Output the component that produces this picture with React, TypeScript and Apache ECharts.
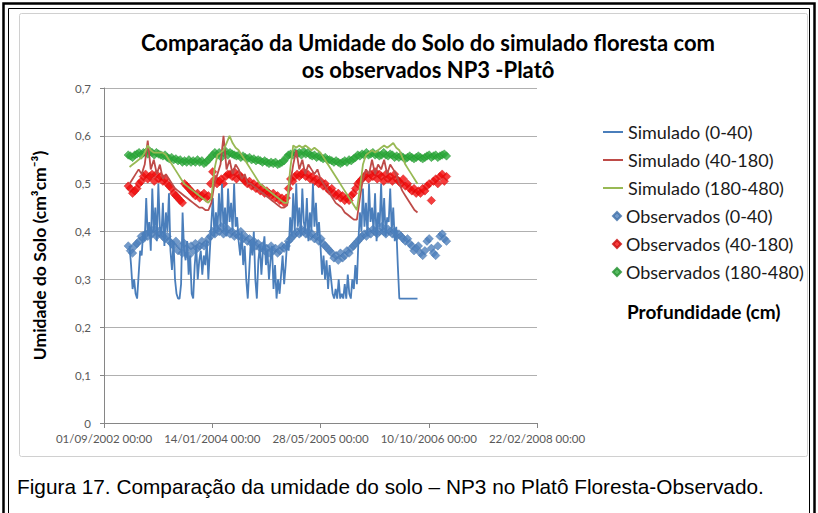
import React, { useEffect, useRef } from "react";
import * as echarts from "echarts";

// X axis: Excel date serials (days); 37500 = 01/09/2002
const X_MIN = 37500;
const X_MAX = 39500;
const X_INTERVAL = 500;
const Y_MIN = 0;
const Y_MAX = 0.7;
const Y_INTERVAL = 0.1;

const TITLE = "Comparação da Umidade do Solo do simulado floresta com\nos observados NP3 -Platô";
const Y_NAME = "Umidade do Solo (cm³cm⁻³)";
const LEGEND_TITLE = "Profundidade (cm)";
const CAPTION = "Figura 17. Comparação da umidade do solo – NP3 no Platô Floresta-Observado.";

const SERIES_NAMES = [
  "Simulado (0-40)",
  "Simulado (40-180)",
  "Simulado (180-480)",
  "Observados (0-40)",
  "Observados (40-180)",
  "Observados (180-480)",
];

// Simulated 0-40: sampled every 7 days from serial 37618
const simBlueStart = 37618;
const simBlueStep = 7;
const simBlue = [
  0.37, 0.33, 0.28, 0.30, 0.27, 0.26, 0.31, 0.36, 0.35,
  0.40, 0.38, 0.47, 0.39, 0.42, 0.36, 0.49, 0.40, 0.45, 0.38, 0.50, 0.41, 0.39, 0.46, 0.37, 0.44, 0.40, 0.48,
  0.36, 0.32, 0.38, 0.30, 0.27, 0.26, 0.26, 0.29,
  0.44,
  0.36, 0.34, 0.38, 0.31, 0.35, 0.27, 0.26, 0.33, 0.37, 0.30, 0.34, 0.36, 0.31, 0.35,
  0.33, 0.38, 0.30, 0.36,
  0.42, 0.47, 0.39, 0.44, 0.40, 0.48,
  0.41, 0.50, 0.40, 0.45, 0.39, 0.49, 0.42, 0.46, 0.40, 0.50, 0.41, 0.43,
  0.38, 0.35, 0.40, 0.33, 0.37, 0.30, 0.26,
  0.32, 0.38, 0.35, 0.40, 0.30, 0.26, 0.34, 0.37, 0.31, 0.36, 0.39, 0.33,
  0.36, 0.30, 0.34, 0.37, 0.28, 0.33, 0.26, 0.30, 0.27,
  0.31, 0.35, 0.29, 0.33, 0.38, 0.36,
  0.43, 0.39, 0.48, 0.40, 0.50, 0.41, 0.45, 0.39, 0.49, 0.42, 0.40, 0.47, 0.38, 0.44, 0.40, 0.50, 0.41, 0.46, 0.39, 0.42,
  0.37, 0.31, 0.35, 0.30, 0.34, 0.28, 0.33, 0.30, 0.27,
  0.26, 0.28, 0.26, 0.30, 0.26, 0.27, 0.26, 0.29, 0.26, 0.31, 0.27, 0.26, 0.30, 0.28, 0.33, 0.29,
  0.38, 0.44, 0.40, 0.49, 0.41, 0.46, 0.39, 0.50, 0.42, 0.45, 0.40, 0.48, 0.38, 0.44, 0.41, 0.50, 0.40, 0.47, 0.39, 0.43, 0.42, 0.49, 0.40, 0.45, 0.38, 0.41,
  0.33,
  0.26, 0.26, 0.26, 0.26, 0.26, 0.26, 0.26, 0.26, 0.26, 0.26, 0.26, 0.26, 0.26,
];

// Simulated 40-180 and 180-480: sampled every 14 days from serial 37618
const simStart = 37618;
const simStep = 14;
const simRed = [
  0.50, 0.51, 0.52, 0.53,
  0.52, 0.54, 0.59, 0.53,
  0.55, 0.52, 0.54, 0.51, 0.52,
  0.51, 0.50, 0.49, 0.485, 0.48, 0.475, 0.47, 0.465, 0.46, 0.455, 0.45, 0.45, 0.445,
  0.445, 0.46, 0.50, 0.52, 0.54, 0.60, 0.53, 0.55, 0.52, 0.54, 0.53, 0.51, 0.52, 0.50,
  0.50, 0.495, 0.49, 0.485, 0.48, 0.475, 0.47, 0.465, 0.46, 0.455, 0.45, 0.45, 0.455,
  0.50, 0.54, 0.57, 0.53, 0.55, 0.52, 0.54, 0.53, 0.52, 0.53, 0.51,
  0.50, 0.49, 0.48, 0.47, 0.46, 0.455, 0.45, 0.44, 0.435, 0.43, 0.425, 0.425,
  0.47, 0.51, 0.53, 0.52, 0.55, 0.52, 0.54, 0.53, 0.55, 0.52, 0.54, 0.53, 0.52,
  0.50, 0.485, 0.475, 0.465, 0.455, 0.445, 0.44,
];
const simGreen = [
  0.535, 0.54, 0.545, 0.55, 0.555, 0.565, 0.58, 0.57, 0.565, 0.565, 0.565, 0.565,
  0.56, 0.55, 0.54, 0.53, 0.52, 0.51, 0.50, 0.495, 0.49, 0.485, 0.48, 0.475, 0.47, 0.465, 0.46, 0.47,
  0.53, 0.56, 0.565, 0.57, 0.585, 0.60, 0.585, 0.575, 0.57,
  0.56, 0.55, 0.54, 0.53, 0.52, 0.51, 0.50, 0.495, 0.49, 0.485, 0.48, 0.475, 0.47, 0.465, 0.46, 0.46,
  0.53, 0.58, 0.575, 0.58, 0.575, 0.58, 0.575, 0.57, 0.575, 0.57, 0.565,
  0.555, 0.545, 0.535, 0.525, 0.515, 0.505, 0.495, 0.485, 0.475, 0.465, 0.455, 0.445,
  0.49, 0.54, 0.56, 0.565, 0.57, 0.565, 0.57, 0.575, 0.58, 0.575, 0.58, 0.585, 0.575,
  0.57, 0.555, 0.54, 0.53, 0.52, 0.51, 0.50,
];

// Observations: every 10 days from serial 37612
const obsStart = 37612;
const obsStep = 10;
const obsBlue = [
  0.37, 0.36, 0.355, 0.37, 0.375, 0.38, 0.39, 0.385,
  0.395, 0.39, 0.40, 0.395, 0.405, 0.39, 0.40, 0.395, 0.39, 0.385, 0.39, 0.38,
  0.375, 0.37, 0.38, 0.36, 0.37, 0.355, 0.375, 0.365, 0.35, 0.37, 0.36, 0.375, 0.365, 0.37, 0.38, 0.37, 0.375, 0.385,
  0.39, 0.40, 0.395, 0.405, 0.40, 0.41, 0.395, 0.40, 0.405, 0.395, 0.40, 0.39, 0.395, 0.39, 0.40, 0.385, 0.39,
  0.38, 0.385, 0.375, 0.38, 0.37, 0.375, 0.365, 0.37, 0.36, 0.365, 0.355, 0.37, 0.36, 0.365, 0.355, 0.36, 0.37, 0.365,
  0.37, 0.38, 0.385, 0.39, 0.395, 0.40, 0.395, 0.405, 0.40, 0.395, 0.40, 0.39, 0.395, 0.385, 0.39, 0.38, 0.385, 0.375, 0.37, 0.365,
  0.36, 0.355, 0.345, 0.35, 0.34, 0.355, 0.345, 0.35, 0.36, 0.355, 0.365, 0.37, 0.375,
  0.38, 0.385, 0.39, 0.395, 0.39, 0.40, 0.395, 0.405, 0.40, 0.395, 0.40, 0.41, 0.40, 0.395, 0.405, 0.40, 0.395, 0.40, 0.39,
  0.395, 0.39, 0.385, 0.38, 0.385, 0.375, 0.37, 0.36, 0.365, 0.37, 0.355, 0.35, 0.36, 0.38, 0.385, 0.365, 0.355, 0.35, 0.37, 0.39, 0.395, 0.385, 0.38,
];
const obsRed = [
  0.495, 0.49, 0.48, 0.485,
  0.49, 0.50, 0.505, 0.515,
  0.52, 0.51, 0.515, 0.52, 0.505, 0.52, 0.51, 0.515, 0.505, 0.51, 0.50, 0.495,
  0.49, 0.48, 0.475, 0.47, 0.465, 0.46,
  0.50, 0.495, 0.49, 0.485, 0.48, 0.475, 0.48, 0.47, 0.475, 0.48, 0.47, 0.475,
  0.50, 0.525, 0.51, 0.50, 0.505, 0.51, 0.50, 0.515, 0.52,
  0.52, 0.515, 0.525, 0.51, 0.52, 0.515, 0.51, 0.505,
  0.50, 0.505, 0.495, 0.50, 0.49, 0.495, 0.485, 0.49, 0.48, 0.485, 0.48, 0.475, 0.48, 0.47, 0.475, 0.465, 0.47, 0.46,
  0.47, 0.49, 0.51, 0.505, 0.515, 0.52, 0.515, 0.52,
  0.525, 0.515, 0.52, 0.51, 0.515, 0.505, 0.51, 0.50, 0.505, 0.495, 0.50, 0.49,
  0.485, 0.49, 0.48, 0.475, 0.48, 0.47, 0.475, 0.465, 0.47, 0.465, 0.475, 0.48, 0.49,
  0.50, 0.505, 0.51, 0.515, 0.52, 0.51, 0.52, 0.515, 0.525, 0.51, 0.52, 0.515, 0.505, 0.52, 0.51, 0.515, 0.505, 0.52, 0.51,
  0.505, 0.50, 0.51, 0.495, 0.50, 0.49, 0.485, 0.49, 0.48, 0.485, 0.48, 0.49, 0.485, 0.495, 0.50,
  0.465,
  0.505, 0.51, 0.50, 0.515, 0.52, 0.505, 0.515,
];
const obsGreen = [
  0.56, 0.558, 0.555, 0.56, 0.562, 0.565, 0.56, 0.565,
  0.565, 0.562, 0.568, 0.565, 0.56, 0.565, 0.562, 0.56, 0.558, 0.56, 0.555, 0.552,
  0.555, 0.55, 0.552, 0.548, 0.55, 0.545, 0.548, 0.545, 0.55, 0.545, 0.548, 0.545, 0.55, 0.545, 0.548, 0.542, 0.545, 0.55,
  0.555, 0.56, 0.565, 0.56, 0.565, 0.555, 0.565, 0.568, 0.56, 0.565, 0.562, 0.56, 0.558, 0.56, 0.555, 0.558, 0.555,
  0.552, 0.555, 0.55, 0.552, 0.548, 0.55, 0.548, 0.545, 0.548, 0.545, 0.542, 0.545, 0.542, 0.545, 0.54, 0.542, 0.545, 0.548,
  0.555, 0.56, 0.562, 0.56, 0.565, 0.562, 0.565, 0.56, 0.568, 0.562, 0.565, 0.56, 0.558, 0.56, 0.555, 0.558, 0.555, 0.552, 0.555, 0.55,
  0.55, 0.548, 0.545, 0.548, 0.545, 0.542, 0.545, 0.548, 0.545, 0.55, 0.548, 0.552, 0.555,
  0.56, 0.558, 0.562, 0.56, 0.565, 0.56, 0.562, 0.565, 0.56, 0.562, 0.558, 0.56, 0.565, 0.56, 0.558, 0.562, 0.56, 0.555, 0.558,
  0.555, 0.558, 0.555, 0.552, 0.555, 0.558, 0.555, 0.552, 0.555, 0.558, 0.555, 0.552, 0.555, 0.558, 0.56, 0.555, 0.558, 0.56, 0.555, 0.558, 0.56, 0.562, 0.558,
];

const COLORS = {
  simBlue: "#4A7EBB",
  simRed: "#BE4B48",
  simGreen: "#98B954",
  obsBlue: "#4F81BD",
  obsRed: "#F20D0D",
  obsGreen: "#2EAA3C",
};

const toPairs = (start: number, step: number, values: number[]) =>
  values.map((v, i) => [start + i * step, v]);

const pad = (n: number) => (n < 10 ? "0" + n : String(n));
const serialToLabel = (serial: number) => {
  const d = new Date(Date.UTC(1899, 11, 30) + Math.round(serial) * 86400000);
  return `${pad(d.getUTCDate())}/${pad(d.getUTCMonth() + 1)}/${d.getUTCFullYear()} 00:00`;
};

export default function App() {
  const ref = useRef<HTMLDivElement>(null);
  useEffect(() => {
    if (!ref.current) return;
    const chart = echarts.init(ref.current, null, { renderer: "svg" });
    const legendText = { fontFamily: "Lato", fontSize: 18, color: "#1a1a1a", lineHeight: 18 };
    chart.setOption({
      animation: false,
      backgroundColor: "#ffffff",
      title: {
        text: TITLE,
        left: 423,
        top: 24,
        textAlign: "center",
        textStyle: { fontFamily: "Lato", fontWeight: "bold", fontSize: 22, lineHeight: 27, color: "#000" },
      },
      grid: { left: 104, right: 281, top: 88, bottom: 90, containLabel: false },
      xAxis: {
        type: "value",
        min: X_MIN,
        max: X_MAX,
        interval: X_INTERVAL,
        axisLine: { show: true, lineStyle: { color: "#868686", width: 1 } },
        axisTick: { show: true, length: 5, lineStyle: { color: "#868686" } },
        splitLine: { show: false },
        axisLabel: {
          formatter: (v: number) => serialToLabel(v),
          fontFamily: "Lato",
          fontSize: 11.5,
          color: "#595959",
          margin: 9,
        },
      },
      yAxis: {
        type: "value",
        min: Y_MIN,
        max: Y_MAX,
        interval: Y_INTERVAL,
        name: Y_NAME,
        nameLocation: "middle",
        nameGap: 56,
        nameRotate: 90,
        nameTextStyle: { fontFamily: "Lato", fontWeight: "bold", fontSize: 17.5, color: "#000" },
        axisLine: { show: true, lineStyle: { color: "#868686", width: 1 } },
        axisTick: { show: true, length: 4, lineStyle: { color: "#868686" } },
        splitLine: { show: true, lineStyle: { color: "#B0B0B0", width: 1 } },
        axisLabel: {
          formatter: (v: number) => (v === 0 ? "0" : v.toFixed(1).replace(".", ",")),
          fontFamily: "Lato",
          fontSize: 11.5,
          color: "#595959",
          margin: 13,
        },
      },
      legend: [
        {
          data: SERIES_NAMES.slice(0, 3),
          orient: "vertical",
          left: 598,
          top: 118,
          icon: "rect",
          itemWidth: 20,
          itemHeight: 2,
          itemGap: 10,
          textStyle: legendText,
          selectedMode: false,
        },
        {
          data: SERIES_NAMES.slice(3),
          orient: "vertical",
          left: 607,
          top: 202,
          icon: "diamond",
          itemWidth: 8,
          itemHeight: 8,
          itemGap: 10,
          textStyle: legendText,
          selectedMode: false,
        },
      ],
      graphic: [
        {
          type: "rect",
          shape: { x: 3.5, y: 3.5, width: 811, height: 530 },
          style: { fill: "none", stroke: "#000", lineWidth: 2.5 },
          silent: true,
        },
        {
          type: "rect",
          shape: { x: 8.5, y: 8.5, width: 801, height: 530 },
          style: { fill: "none", stroke: "#000", lineWidth: 1 },
          silent: true,
        },
        {
          type: "rect",
          shape: { x: 19.5, y: 13.5, width: 788, height: 443, r: 2 },
          style: { fill: "none", stroke: "#D0D0D0", lineWidth: 1 },
          silent: true,
        },
        {
          type: "text",
          x: 627,
          y: 311,
          style: {
            text: LEGEND_TITLE,
            fontFamily: "Lato",
            fontWeight: "bold",
            fontSize: 19,
            fill: "#000",
            verticalAlign: "middle",
          },
          silent: true,
        },
        {
          type: "text",
          x: 17,
          y: 486,
          style: {
            text: CAPTION,
            fontFamily: "Liberation Sans",
            fontSize: 20.8,
            fill: "#000",
            verticalAlign: "middle",
          },
          silent: true,
        },
      ],
      series: [
        {
          name: SERIES_NAMES[3],
          type: "scatter",
          symbol: "diamond",
          symbolSize: 8.5,
          itemStyle: { color: COLORS.obsBlue, borderColor: "#3F6FA8", borderWidth: 0.5 },
          data: toPairs(obsStart, obsStep, obsBlue),
          z: 2,
        },
        {
          name: SERIES_NAMES[4],
          type: "scatter",
          symbol: "diamond",
          symbolSize: 8.5,
          itemStyle: { color: COLORS.obsRed, borderColor: "#C80A0A", borderWidth: 0.5 },
          data: toPairs(obsStart, obsStep, obsRed),
          z: 2,
        },
        {
          name: SERIES_NAMES[5],
          type: "scatter",
          symbol: "diamond",
          symbolSize: 8.5,
          itemStyle: { color: COLORS.obsGreen, borderColor: "#23902F", borderWidth: 0.5 },
          data: toPairs(obsStart, obsStep, obsGreen),
          z: 2,
        },
        {
          name: SERIES_NAMES[0],
          type: "line",
          symbol: "none",
          showSymbol: false,
          lineStyle: { color: COLORS.simBlue, width: 1.8 },
          itemStyle: { color: COLORS.simBlue },
          data: toPairs(simBlueStart, simBlueStep, simBlue),
          z: 3,
        },
        {
          name: SERIES_NAMES[1],
          type: "line",
          symbol: "none",
          showSymbol: false,
          lineStyle: { color: COLORS.simRed, width: 1.8 },
          itemStyle: { color: COLORS.simRed },
          data: toPairs(simStart, simStep, simRed),
          z: 3,
        },
        {
          name: SERIES_NAMES[2],
          type: "line",
          symbol: "none",
          showSymbol: false,
          lineStyle: { color: COLORS.simGreen, width: 1.8 },
          itemStyle: { color: COLORS.simGreen },
          data: toPairs(simStart, simStep, simGreen),
          z: 3,
        },
      ],
    });
    return () => chart.dispose();
  }, []);
  return (
    <div
      ref={ref}
      style={{ position: "absolute", left: 0, top: 0, width: 818, height: 513 }}
    />
  );
}
